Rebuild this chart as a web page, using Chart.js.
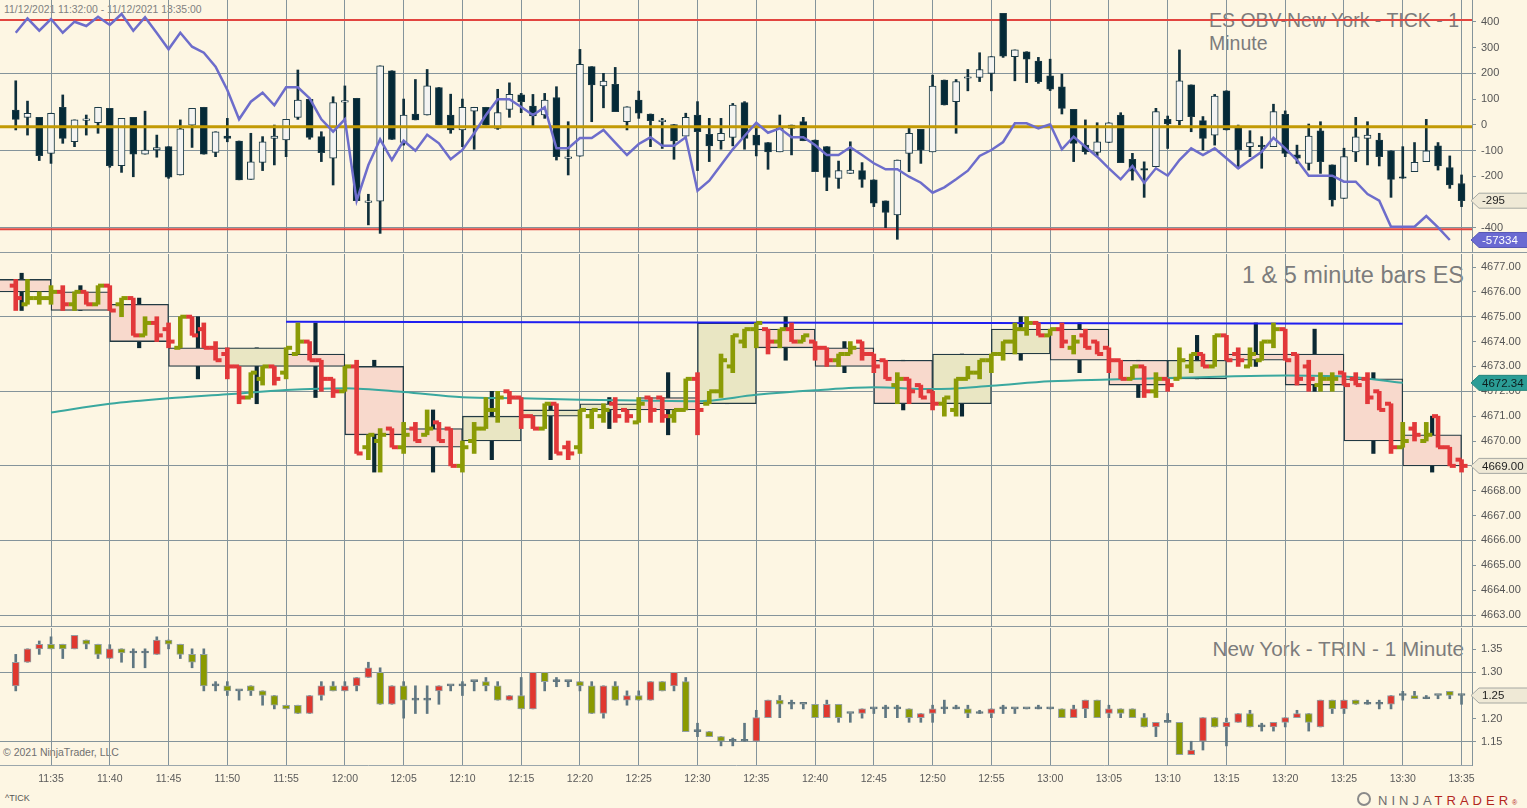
<!DOCTYPE html>
<html>
<head>
<meta charset="utf-8">
<title>ES TICK / ES / TRIN</title>
<script src="https://cdn.jsdelivr.net/npm/chart.js@4.4.1/dist/chart.umd.min.js"></script>
<style>
  html, body { margin: 0; padding: 0; }
  body { width: 1527px; height: 808px; background: #fdf6e3; position: relative; overflow: hidden;
         font-family: "Liberation Sans", Arial, sans-serif; }
  .txt { position: absolute; color: #7c7c7c; white-space: nowrap; line-height: 1; }
  .pane { position: absolute; left: 0; z-index: 1; }
  .sep { position: absolute; left: 0; width: 1527px; height: 1px; background: #8d9aa0; z-index: 1; }
</style>
</head>
<body>
<div class="txt" style="left:4px;top:5px;font-size:10.4px;color:#808080;">11/12/2021 11:32:00 - 11/12/2021 13:35:00</div>
<div class="txt" style="left:1209px;top:9px;font-size:19.5px;line-height:22.7px;">ES OBV-New York - TICK - 1<br>Minute</div>
<div class="txt" style="right:63px;top:263.5px;font-size:23.5px;">1 &amp; 5 minute bars ES</div>
<div class="txt" style="right:63px;top:639px;font-size:20.7px;">New York - TRIN - 1 Minute</div>
<div class="txt" style="left:3px;top:747px;font-size:10.5px;color:#707070;">© 2021 NinjaTrader, LLC</div>
<div class="txt" style="left:5px;top:794px;font-size:9px;color:#555;">^TICK</div>
<div style="position:absolute;left:1357px;top:792px;width:14px;height:14px;border-radius:50%;border:2px solid #8a8a8a;box-sizing:border-box;"></div>
<div class="txt" style="left:1378px;top:794px;font-size:13px;letter-spacing:4px;color:#6d6d6d;">NINJA<span style="color:#b3261e">TRADER</span><span style="font-size:7px;color:#b3261e;letter-spacing:0">®</span></div>

<canvas id="tickChart" class="pane" style="top:0" width="1527" height="252"></canvas>
<div class="sep" style="top:252px"></div>
<canvas id="esChart" class="pane" style="top:254px" width="1527" height="372"></canvas>
<div class="sep" style="top:626px"></div>
<canvas id="trinChart" class="pane" style="top:628px" width="1527" height="180"></canvas>

<script>
// ---- time axis: one bar per minute starting 11:32 (index 0) ----
const timeLabels = ['11:35','11:40','11:45','11:50','11:55','12:00','12:05','12:10','12:15','12:20',
  '12:25','12:30','12:35','12:40','12:45','12:50','12:55','13:00','13:05','13:10',
  '13:15','13:20','13:25','13:30','13:35'];

// ---- NYSE TICK, 1 minute ----
const tickOpen = [57,29,29,-111,68,-66,17,8,64,-159,
  29,-114,-98,-85,-195,-1,68,-107,-44,-63,
  -212,-146,-53,-59,29,99,-46,-130,88,103,
  -298,-297,210,-69,42,38,145,38,-20,53,
  68,-14,60,116,73,38,106,-127,-122,226,
  151,157,12,96,42,12,1,-44,38,-37,
  -62,-49,86,-40,-69,-105,-1,12,-59,-85,
  -208,-189,-178,-214,-296,-350,-111,-18,-105,174,
  90,181,184,200,433,265,284,248,190,148,
  60,-79,-107,-69,38,-134,-170,-163,21,16,
  155,16,-40,132,-7,-85,-79,-85,41,-117,
  -150,-23,-156,-286,-105,-53,-59,-101,-202,-182,
  -143,-82,-166,-228];
const tickHigh = [171,92,29,45,116,19,38,68,64,25,
  29,53,-40,-85,19,64,68,-27,25,-63,
  -33,-46,-1,21,213,99,-27,109,151,103,
  -270,229,210,100,176,215,145,119,100,68,
  68,138,163,122,118,122,148,12,293,226,
  200,223,70,131,42,25,1,45,90,25,
  25,83,90,-5,-69,38,-1,29,-59,-85,
  -141,-66,-147,-214,-296,-137,-14,-18,193,174,
  176,215,280,265,433,291,284,262,255,197,
  60,19,8,8,47,-111,-144,64,34,291,
  155,32,118,132,-1,-23,-46,80,54,-79,
  3,12,-156,-91,29,12,-33,-101,-85,-69,
  21,-69,-121,-195];
const tickLow = [-20,-40,-139,-150,-72,-85,-40,-33,-165,-185,
  -202,-114,-126,-208,-195,-88,-114,-124,-66,-214,
  -212,-178,-156,-124,21,-56,-143,-234,12,-295,
  -389,-422,-57,-79,19,38,-1,-33,-85,-95,
  -1,-18,29,47,-5,25,-137,-195,-122,12,
  66,51,-20,25,-85,-92,-134,-44,-178,-143,
  -95,-82,-95,-121,-173,-105,-117,-62,-182,-256,
  -247,-189,-243,-318,-400,-445,-182,-150,-105,77,
  -33,132,168,132,262,171,164,161,133,42,
  -143,-114,-121,-69,-147,-215,-282,-163,-92,-1,
  -27,-98,-79,-20,-169,-124,-169,-85,-124,-150,
  -176,-189,-316,-286,-143,-156,-160,-282,-208,-182,
  -143,-176,-247,-318];
const tickClose = [21,45,-120,45,-53,19,21,68,-159,25,
  -114,-98,-89,-204,-16,64,-114,-27,-53,-214,
  -144,-66,-44,21,96,-49,-108,86,90,-295,
  -296,229,-57,38,19,151,-1,-20,68,68,
  -1,47,118,90,34,96,-124,-125,235,155,
  170,51,70,45,16,14,-63,29,-27,-82,
  -33,77,-53,-79,-105,-14,-14,-62,-182,-205,
  -178,-176,-212,-305,-341,-137,-33,-98,150,77,
  168,183,215,265,267,291,255,168,138,64,
  -72,-104,-66,8,-147,-180,-176,51,3,171,
  32,-53,112,-20,-98,-69,-80,51,-111,-130,
  -44,-143,-292,-124,-47,-40,-124,-212,-203,-146,
  -101,-160,-234,-295];
const tickUpper = 407, tickLower = -406, tickZero = -8;

// ---- ES on-balance volume (own hidden scale) ----
const obv = [-25087,-22847,-24776,-22956,-25087,-23376,-24045,-22598,-23889,-22178,
  -24776,-22691,-25133,-27669,-25087,-27265,-28198,-30376,-34000,-38558,
  -35820,-34420,-36381,-33580,-33580,-35292,-38558,-40487,-38558,-51221,
  -45667,-41669,-44890,-41887,-43443,-40954,-42292,-44781,-43334,-40736,
  -37889,-35447,-35447,-36645,-37889,-36692,-43070,-43070,-41467,-41467,
  -40223,-42198,-44112,-42401,-41358,-42665,-42665,-41358,-49665,-48110,
  -45667,-43225,-41156,-39087,-40643,-39958,-41358,-41358,-42556,-44112,
  -44112,-42914,-44112,-45403,-46336,-46336,-47487,-48421,-49976,-49136,
  -47892,-46554,-44267,-43334,-42090,-39181,-39181,-39958,-39336,-43225,
  -41265,-42821,-44376,-46181,-47892,-45823,-48421,-46181,-47332,-44890,
  -43070,-44112,-43070,-44626,-46181,-44890,-43598,-41421,-43070,-44890,
  -47332,-47332,-47332,-48265,-48265,-50179,-51221,-55266,-55266,-55266,
  -53601,-55359,-57334];

// ---- ES 1 minute bars ----
const esOpen = [4676.25,4675.5,4675.75,4675.75,4676,4675.5,4676,4675.5,4676.25,4675.5,
  4675.75,4674.25,4674.75,4674.5,4673.75,4675,4674.5,4673.75,4673.5,4673,
  4671.75,4672.5,4673,4672.75,4673.5,4674,4673.25,4672.5,4672,4673,
  4669.75,4670,4670.5,4669.75,4670.5,4670.25,4670.75,4670.5,4669,4670,
  4670.5,4671.25,4672,4671.75,4671,4670.5,4671.5,4669.75,4669.75,4671,
  4671,4671.5,4671.25,4670.75,4671.75,4671.75,4671,4671.25,4672.5,4671.5,
  4672,4673,4674,4674.5,4674.5,4674,4674.5,4674,4674,4673.75,
  4673.25,4673.5,4674,4673.5,4673.25,4672.25,4672.5,4672.25,4672,4671.5,
  4671.25,4672.5,4672.75,4673.25,4673.5,4674,4674.5,4674.75,4674.25,4674.5,
  4673.75,4674.25,4674,4673.75,4673.25,4672.5,4673,4672,4672.5,4672.5,
  4673,4673.5,4673,4674.25,4673.5,4673,4673.25,4674,4674.5,4673.5,
  4673,4672.25,4672.5,4672.75,4672.5,4672.5,4672,4671.5,4669.75,4670.5,
  4670,4671,4669.75,4669.25];
const esHigh = [4676.5,4676.5,4676,4676.25,4676.25,4676,4676,4676.25,4676.25,4675.75,
  4675.75,4675,4675,4674.75,4675,4675,4674.75,4674,4673.75,4673,
  4672.75,4673,4673,4673.75,4674.75,4674,4673.25,4672.5,4673,4673.25,
  4670.25,4670.5,4670.5,4670.75,4670.75,4671.25,4670.75,4670.5,4670,4670.75,
  4671.75,4672,4672,4671.75,4671,4671.5,4671.5,4670,4671.25,4671.25,
  4671.5,4671.75,4671.25,4671.75,4671.75,4671.75,4671.25,4672.5,4672.75,4672,
  4673.5,4674.25,4674.5,4674.75,4674.5,4674.5,4674.75,4674.25,4674,4673.75,
  4673.5,4674,4674,4673.5,4673.25,4672.75,4672.5,4672.25,4672,4671.75,
  4672.5,4673,4673.25,4673.5,4674,4674.75,4675,4674.75,4674.5,4674.75,
  4674.25,4674.5,4674,4673.75,4673.25,4673,4673,4672.75,4672.5,4673.75,
  4673.5,4673.5,4674.25,4674.25,4673.75,4673.75,4674,4674.75,4674.5,4673.5,
  4673.25,4672.75,4672.75,4672.75,4672.75,4672.75,4672,4671.5,4670.75,4670.75,
  4670.75,4671,4669.75,4669.25];
const esLow = [4675.25,4675.5,4675.5,4675.5,4675.25,4675.25,4675.5,4675.5,4675.25,4675,
  4674.25,4674.25,4674,4673.75,4673.75,4674.25,4673.75,4673.25,4672.5,4671.5,
  4671.75,4672.25,4672.25,4672.5,4673.5,4673.25,4672,4671.75,4672,4669.5,
  4669.25,4668.75,4669.75,4669.5,4670,4670.25,4670,4669,4668.75,4669.5,
  4670.5,4670.75,4671.5,4670.5,4670.5,4670.5,4669.5,4669.25,4669.5,4670.5,
  4670.75,4670.75,4670.75,4670.75,4670.75,4670.75,4670.75,4671.25,4670.25,4671.5,
  4671.75,4672.75,4673.75,4673.75,4673.5,4673.75,4674,4674,4673.25,4673,
  4673,4673.5,4673.25,4672.75,4672.5,4671.5,4671.5,4671.75,4671.25,4671,
  4671,4672.5,4672.5,4672.75,4673.25,4673.5,4674.25,4674.25,4674.25,4673.75,
  4673.5,4673.75,4673.5,4672.75,4672.5,4672.5,4671.75,4671.75,4672,4672.5,
  4672.75,4673,4673,4673.25,4673,4673,4673.25,4673.75,4673.25,4672.25,
  4672,4672,4672,4672.25,4672.25,4671.5,4671.25,4669.5,4669.75,4670,
  4670,4669.75,4669,4668.75];
const esClose = [4675.75,4675.75,4675.75,4676,4675.5,4676,4675.5,4676.25,4675.25,4675.75,
  4674.25,4674.75,4674.25,4674,4675,4674.25,4673.75,4673.25,4673,4671.75,
  4672.75,4673,4672.5,4673.75,4674,4673.25,4672.5,4672,4673,4669.5,
  4670.25,4670.25,4669.75,4670.25,4670,4670.5,4670,4669,4669.75,4670.5,
  4671.25,4671.75,4671.75,4671,4670.5,4671.5,4669.5,4669.5,4671.25,4671.25,
  4671.25,4671,4671,4671.5,4671.25,4671,4671.25,4672.5,4671.25,4672,
  4673.25,4674.25,4674.5,4674.75,4674,4674.5,4674,4674.25,4673.75,4673.25,
  4673.5,4673.75,4673.5,4673,4672.5,4672.5,4672,4671.75,4671.5,4671.75,
  4672.5,4672.75,4673.25,4673.5,4674,4674.5,4674.75,4674.25,4674.5,4674,
  4674,4673.75,4673.5,4673.25,4672.5,4673,4672,4672.5,4672.25,4673.25,
  4673.5,4673,4674.25,4673.25,4673.25,4673.5,4674,4674.5,4673.25,4672.5,
  4672.5,4672.5,4672.5,4672.25,4672.25,4671.75,4671.25,4669.75,4670,4670.25,
  4670.25,4669.75,4669,4669];

// ---- ES 5 minute bars (each covers the five 1-minute bars before its stamp) ----
const box5Open  = [4676.5,4676,4675.5,4673.75,4673,4673.5,4673,4670.5,4670,4671,4671.25,4671.75,4671.5,
  4674.5,4673.75,4673.25,4671.5,4673.5,4674.5,4673.25,4672.5,4673.5,4673.5,4672.5,4670.25];
const box5High  = [4676.75,4676.25,4675.75,4675,4673.75,4674.75,4673.25,4671.25,4672,4671.5,4671.75,4672.75,4674.75,
  4675,4674,4673.25,4673.5,4675,4674.75,4673.25,4674.25,4674.75,4674.5,4672.75,4671];
const box5Low   = [4675.25,4675.25,4673.75,4672.5,4671.5,4671.75,4668.75,4668.75,4669.25,4669.25,4670.5,4670.25,4671.5,
  4673.25,4672.75,4671.25,4671,4673.25,4672.75,4671.75,4672.5,4673,4672,4669.5,4668.75];
const box5Close = [4676,4675.25,4674,4673,4673.75,4673,4670.25,4669.75,4671,4671.25,4671.5,4671.25,4674.75,
  4673.75,4673,4671.5,4673.5,4674.5,4673.25,4672.25,4673.25,4673.25,4672.25,4670,4669];

// 5 minute moving average, one value per 5 minute stamp from 11:35
const sma5 = [4671.15,4671.5,4671.72,4671.88,4672.05,4672.12,4671.97,4671.76,4671.72,4671.66,4671.63,4671.6,
  4671.86,4672.04,4672.16,4672.09,4672.22,4672.4,4672.47,4672.53,4672.6,4672.64,4672.6,4672.34];

// drawn resistance line (from 11:55 to 13:30)
const resistX = [23, 118];
const resistY = [4674.8, 4674.72];

// ---- NYSE TRIN, 1 minute ----
const trinOpen = [1.271,1.322,1.351,1.361,1.361,1.351,1.370,1.361,1.330,1.351,
  1.342,1.342,1.339,1.370,1.361,1.339,1.339,1.271,1.271,1.260,
  1.271,1.260,1.250,1.229,1.229,1.211,1.250,1.271,1.260,1.271,
  1.289,1.300,1.231,1.271,1.240,1.240,1.260,1.271,1.271,1.280,
  1.280,1.271,1.240,1.250,1.221,1.300,1.280,1.280,1.280,1.271,
  1.211,1.271,1.240,1.250,1.240,1.280,1.271,1.280,1.172,1.172,
  1.161,1.151,1.151,1.151,1.202,1.240,1.231,1.231,1.231,1.202,
  1.231,1.211,1.211,1.221,1.221,1.221,1.221,1.202,1.211,1.221,
  1.221,1.221,1.211,1.211,1.221,1.221,1.221,1.221,1.221,1.221,
  1.202,1.221,1.240,1.211,1.221,1.221,1.202,1.182,1.192,1.192,
  1.122,1.151,1.202,1.182,1.192,1.211,1.182,1.182,1.192,1.202,
  1.211,1.182,1.240,1.221,1.240,1.231,1.231,1.231,1.250,1.250,
  1.243,1.250,1.259,1.250];
const trinHigh = [1.339,1.351,1.368,1.377,1.361,1.380,1.370,1.361,1.360,1.351,
  1.351,1.351,1.377,1.370,1.361,1.351,1.351,1.280,1.280,1.260,
  1.271,1.260,1.250,1.229,1.229,1.250,1.280,1.280,1.280,1.289,
  1.322,1.310,1.271,1.280,1.271,1.271,1.271,1.271,1.280,1.280,
  1.289,1.280,1.250,1.289,1.300,1.300,1.289,1.280,1.280,1.280,
  1.271,1.280,1.260,1.260,1.280,1.280,1.300,1.289,1.190,1.172,
  1.161,1.158,1.190,1.218,1.240,1.250,1.240,1.231,1.231,1.240,
  1.231,1.211,1.221,1.221,1.229,1.229,1.221,1.211,1.229,1.240,
  1.229,1.229,1.218,1.221,1.229,1.221,1.221,1.229,1.221,1.221,
  1.229,1.240,1.240,1.229,1.221,1.221,1.211,1.192,1.211,1.192,
  1.151,1.202,1.202,1.201,1.211,1.218,1.190,1.192,1.202,1.218,
  1.211,1.240,1.240,1.240,1.240,1.240,1.240,1.250,1.259,1.259,
  1.250,1.250,1.259,1.250];
const trinLow = [1.260,1.322,1.339,1.351,1.330,1.351,1.351,1.330,1.330,1.322,
  1.310,1.310,1.339,1.351,1.330,1.310,1.260,1.260,1.250,1.240,
  1.250,1.229,1.221,1.221,1.211,1.211,1.240,1.260,1.260,1.260,
  1.289,1.231,1.231,1.201,1.211,1.211,1.231,1.260,1.250,1.260,
  1.260,1.240,1.240,1.221,1.221,1.260,1.269,1.269,1.260,1.211,
  1.201,1.240,1.229,1.240,1.240,1.260,1.260,1.172,1.161,1.161,
  1.141,1.141,1.151,1.151,1.202,1.202,1.221,1.221,1.202,1.202,
  1.192,1.192,1.201,1.211,1.202,1.202,1.192,1.192,1.192,1.211,
  1.221,1.202,1.211,1.202,1.211,1.211,1.221,1.221,1.221,1.202,
  1.202,1.202,1.202,1.202,1.202,1.202,1.182,1.161,1.192,1.122,
  1.122,1.132,1.182,1.141,1.192,1.182,1.173,1.173,1.182,1.202,
  1.173,1.182,1.211,1.211,1.231,1.231,1.221,1.221,1.240,1.243,
  1.243,1.243,1.243,1.231];
const trinClose = [1.322,1.351,1.361,1.351,1.351,1.380,1.361,1.339,1.351,1.342,
  1.342,1.342,1.370,1.361,1.339,1.322,1.271,1.271,1.260,1.260,
  1.260,1.250,1.229,1.221,1.211,1.250,1.271,1.260,1.271,1.289,
  1.310,1.231,1.271,1.240,1.240,1.240,1.271,1.271,1.271,1.280,
  1.271,1.240,1.250,1.221,1.300,1.280,1.280,1.280,1.271,1.211,
  1.271,1.240,1.250,1.240,1.280,1.260,1.300,1.172,1.172,1.161,
  1.151,1.151,1.151,1.202,1.240,1.231,1.231,1.231,1.202,1.231,
  1.202,1.211,1.221,1.221,1.221,1.221,1.202,1.211,1.221,1.221,
  1.221,1.211,1.211,1.221,1.221,1.221,1.221,1.221,1.221,1.202,
  1.221,1.240,1.202,1.221,1.211,1.202,1.182,1.192,1.192,1.122,
  1.132,1.202,1.182,1.192,1.211,1.182,1.182,1.192,1.202,1.211,
  1.192,1.240,1.221,1.240,1.231,1.231,1.231,1.250,1.250,1.243,
  1.243,1.250,1.250,1.250];

// ---- axis levels ----
const tickLevels = [-400,-300,-200,-100,0,100,200,300,400];
const tickGrid = [200,-100,-400];
const esLevels = [4663,4664,4665,4666,4667,4668,4669,4670,4671,4672,4673,4674,4675,4676,4677];
const esGrid = [4663,4666,4669,4672,4675];
const trinLevels = [1.15,1.2,1.25,1.3,1.35];
const trinGrid = [1.15,1.3];

// ---- shared look ----
Chart.defaults.font.family = '"Liberation Sans", Arial, sans-serif';
Chart.defaults.font.size = 11;
Chart.defaults.color = '#555';
const X_MIN = -1.34, X_MAX = 123.89;
const GRID = '#84949b';
const OLIVE = '#8b9b06', RED = '#e2383a';
const timeTicks = timeLabels.map((_, k) => 3 + 5 * k);

function xScale(showLabels) {
  return {
    type: 'linear', min: X_MIN, max: X_MAX, offset: false,
    grid: { color: GRID, offset: false, drawTicks: false },
    border: { display: showLabels, color: '#9ba7ac' },
    ticks: { display: showLabels, autoSkip: false, maxRotation: 0, padding: 8,
             color: '#5a5a5a', font: { size: 10.5 }, callback: (v, i) => timeLabels[i] },
    afterBuildTicks: s => { s.ticks = timeTicks.map(v => ({ value: v })); },
    afterFit: s => { s.height = showLabels ? 43 : 0; s.paddingLeft = 0; s.paddingRight = 0; }
  };
}

function yScale(min, max, levels, gridLevels, fmt) {
  return {
    type: 'linear', position: 'right', min, max,
    grid: { color: c => gridLevels.includes(c.tick.value) ? GRID : 'rgba(0,0,0,0)',
            tickColor: GRID, tickLength: 4 },
    border: { color: GRID },
    ticks: { autoSkip: false, padding: 5, color: '#555', font: { size: 11 }, callback: fmt },
    afterBuildTicks: s => { s.ticks = levels.map(v => ({ value: v })); },
    afterFit: s => { s.width = 55; s.paddingTop = 0; s.paddingBottom = 0; }
  };
}

// price flags on the right axis
const badgePlugin = {
  id: 'badges',
  afterDatasetsDraw(chart, args, opts) {
    const { ctx, chartArea } = chart;
    ctx.save();
    ctx.font = '11.5px "Liberation Sans", Arial, sans-serif';
    ctx.textBaseline = 'middle';
    ctx.textAlign = 'left';
    for (const b of opts.items || []) {
      const y = chart.scales[b.axis].getPixelForValue(b.value);
      const x0 = chartArea.right - 1, x1 = x0 + 8, x2 = chart.width + 2, h = 7.5;
      ctx.beginPath();
      ctx.moveTo(x0, y); ctx.lineTo(x1, y - h); ctx.lineTo(x2, y - h);
      ctx.lineTo(x2, y + h); ctx.lineTo(x1, y + h); ctx.closePath();
      ctx.fillStyle = b.fill; ctx.fill();
      ctx.strokeStyle = b.stroke; ctx.lineWidth = 1; ctx.stroke();
      ctx.fillStyle = b.color;
      ctx.fillText(b.text, x1 + 3, y + 0.5);
    }
    ctx.restore();
  }
};

const base = { responsive: false, animation: false, events: [], layout: { padding: 0, autoPadding: false } };
const flat = y => [{ x: X_MIN, y }, { x: X_MAX, y }];
const beige = { fill: '#efe9d6', stroke: '#a6a8a2', color: '#1e1e1e' };
const last = a => a[a.length - 1];

// ---------- top panel: TICK candles + OBV ----------
new Chart(document.getElementById('tickChart'), {
  type: 'bar',
  data: {
    datasets: [
      { type: 'line', data: flat(tickUpper), borderColor: '#e2453f', borderWidth: 2, pointRadius: 0, order: 6 },
      { type: 'line', data: flat(tickLower), borderColor: '#e2453f', borderWidth: 2, pointRadius: 0, order: 6 },
      { data: tickLow.map((l, i) => ({ x: i, y: [l, tickHigh[i]] })),
        backgroundColor: '#0f2f3b', barThickness: 2, grouped: false, order: 5 },
      { data: tickOpen.map((o, i) => ({ x: i, y: [o, tickClose[i]] })),
        backgroundColor: tickClose.map((c, i) => c < tickOpen[i] ? '#052a37' : '#f4f4f2'),
        borderColor: '#1b3a45', borderWidth: 1, borderSkipped: false, barThickness: 7,
        minBarLength: 1.5, grouped: false, order: 4 },
      { type: 'line', data: flat(tickZero), borderColor: '#c29a05', borderWidth: 3, pointRadius: 0, order: 3 },
      { type: 'line', yAxisID: 'yObv', data: obv.map((v, i) => ({ x: i, y: v })),
        borderColor: '#6d6dcb', borderWidth: 2.5, pointRadius: 0, order: 2 }
    ]
  },
  options: Object.assign({}, base, {
    scales: {
      x: xScale(false),
      y: yScale(-494.4, 485, tickLevels, tickGrid, v => String(v)),
      yObv: { type: 'linear', display: false, min: -59201, max: -20000 }
    },
    plugins: { legend: { display: false }, tooltip: { enabled: false },
      badges: { items: [
        Object.assign({ axis: 'y', value: last(tickClose), text: String(last(tickClose)) }, beige),
        { axis: 'yObv', value: last(obv), text: String(last(obv)), fill: '#6a6ad2', stroke: '#5959b5', color: '#ffffff' }
      ] } }
  }),
  plugins: [badgePlugin]
});

// ---------- middle panel: ES 1 & 5 minute bars ----------
const esColors = esClose.map((c, i) => c >= esOpen[i] ? OLIVE : RED);
new Chart(document.getElementById('esChart'), {
  type: 'bar',
  data: {
    datasets: [
      { xAxisID: 'x5', data: box5High.map((h, m) => ({ x: 0.5 + 5 * m, y: [box5Low[m], h] })),
        backgroundColor: '#0b2833', barThickness: 3.5, grouped: false, order: 7 },
      { xAxisID: 'x5', data: box5Open.map((o, m) => ({ x: 0.5 + 5 * m, y: [o, box5Close[m]] })),
        backgroundColor: box5Close.map((c, m) => c >= box5Open[m] ? '#e9e6c3' : '#f8d9cc'),
        borderColor: '#223a43', borderWidth: 1.3, borderSkipped: false,
        barPercentage: 1, categoryPercentage: 1, grouped: false, order: 6 },
      { type: 'line', data: sma5.map((v, k) => ({ x: 3 + 5 * k, y: v })), borderColor: '#3aa89f',
        borderWidth: 2, pointRadius: 0, cubicInterpolationMode: 'monotone', order: 5 },
      { type: 'line', data: resistX.map((x, k) => ({ x, y: resistY[k] })), borderColor: '#1f1ff0',
        borderWidth: 2, pointRadius: 0, order: 4 },
      { data: esLow.map((l, i) => ({ x: i, y: [l, esHigh[i]] })),
        backgroundColor: esColors, barThickness: 4, grouped: false, order: 3 },
      { type: 'scatter', data: esOpen.map((o, i) => ({ x: i - 0.255, y: o })), pointStyle: 'line',
        pointRadius: 3, pointBorderWidth: 4, pointBorderColor: esColors, order: 2 },
      { type: 'scatter', data: esClose.map((c, i) => ({ x: i + 0.255, y: c })), pointStyle: 'line',
        pointRadius: 3, pointBorderWidth: 4, pointBorderColor: esColors, order: 1 }
    ]
  },
  options: Object.assign({}, base, {
    scales: {
      x: xScale(false),
      x5: { type: 'linear', display: false, min: X_MIN, max: X_MAX, offset: false },
      y: yScale(4662.559, 4677.523, esLevels, esGrid, v => v.toFixed(2))
    },
    plugins: { legend: { display: false }, tooltip: { enabled: false },
      badges: { items: [
        { axis: 'y', value: last(sma5), text: last(sma5).toFixed(2), fill: '#2b9d96', stroke: '#23857d', color: '#0d1f1f' },
        Object.assign({ axis: 'y', value: last(esClose), text: last(esClose).toFixed(2) }, beige)
      ] } }
  }),
  plugins: [badgePlugin]
});

// ---------- bottom panel: TRIN candles ----------
new Chart(document.getElementById('trinChart'), {
  type: 'bar',
  data: {
    datasets: [
      { data: trinLow.map((l, i) => ({ x: i, y: [l, trinHigh[i]] })),
        backgroundColor: '#5f7782', barThickness: 2, grouped: false, order: 2 },
      { data: trinOpen.map((o, i) => ({ x: i, y: [o, trinClose[i]] })),
        backgroundColor: trinClose.map((c, i) => c > trinOpen[i] ? '#e0382f' : (c < trinOpen[i] ? '#8a9a00' : '#61767f')),
        borderColor: trinClose.map((c, i) => c === trinOpen[i] ? '#61767f' : '#93a0a4'),
        borderWidth: 1, borderSkipped: false, barThickness: 7, minBarLength: 2, grouped: false, order: 1 }
    ]
  },
  options: Object.assign({}, base, {
    scales: {
      x: xScale(true),
      y: yScale(1.0996, 1.3961, trinLevels, trinGrid, v => v.toFixed(2))
    },
    plugins: { legend: { display: false }, tooltip: { enabled: false },
      badges: { items: [ Object.assign({ axis: 'y', value: last(trinClose), text: last(trinClose).toFixed(2) }, beige) ] } }
  }),
  plugins: [badgePlugin]
});
</script>
</body>
</html>
